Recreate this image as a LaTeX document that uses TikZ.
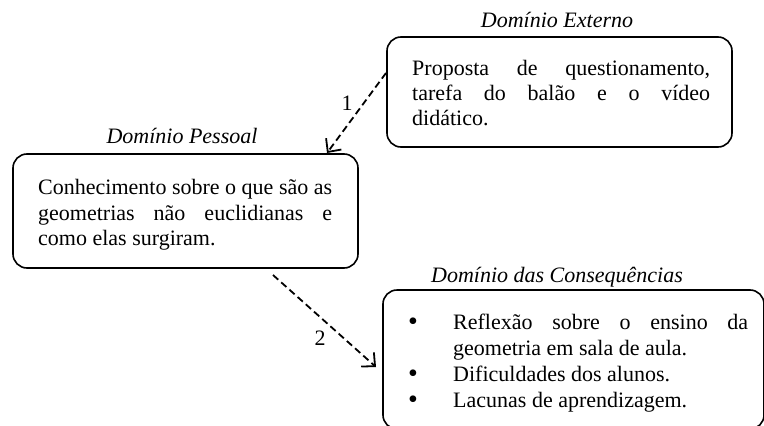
\documentclass[tikz,border=0pt]{standalone}
\usepackage{fontspec}
\setmainfont{Liberation Serif}
\usetikzlibrary{arrows.meta,calc}
\tikzset{
  box/.style={draw, line width=1.6pt, rounded corners=14pt, inner sep=0pt, outer sep=0pt},
  txt/.style={anchor=base west, inner sep=0pt, font=\fontsize{22}{25}\selectfont},
  ttl/.style={anchor=base, inner sep=0pt, font=\fontsize{22}{25}\selectfont\itshape},
  lbl/.style={inner sep=0pt, font=\fontsize{22}{25}\selectfont},
  bul/.style={anchor=base, inner sep=0pt, text height=12pt, text depth=0pt, font=\fontsize{28}{28}\selectfont},
  flow/.style={line width=1.8pt, dash pattern=on 7pt off 4pt, -{Straight Barb[length=10pt,width=19pt,line width=1.8pt]}}
}
\begin{document}
\begin{tikzpicture}[x=1pt,y=-1pt]
\clip (0,0) rectangle (764,426);
\fill[white] (0,0) rectangle (764,426);
% boxes
\node[box, minimum width=345pt, minimum height=110pt] (ext) at (559.5,92) {};
\node[box, minimum width=345pt, minimum height=114pt] (pes) at (185.5,211) {};
\node[box, minimum width=381pt, minimum height=139pt] (con) at (573.5,359.5) {};
% titles
\node[ttl] (text) at (557,27) {Domínio Externo};
\node[ttl] (tpes) at (182,143) {Domínio Pessoal};
\node[ttl] (tcon) at (557,282) {Domínio das Consequências};
% external box text
\node[txt] (e1) at (412,75) {\makebox[298pt][s]{Proposta de questionamento,}};
\node[txt] (e2) at (412,100) {\makebox[298pt][s]{tarefa do balão e o vídeo}};
\node[txt] (e3) at (412,125) {didático.};
% personal box text
\node[txt] (p1) at (38,194) {\makebox[294pt][s]{Conhecimento sobre o que são as}};
\node[txt] (p2) at (38,220) {\makebox[294pt][s]{geometrias não euclidianas e}};
\node[txt] (p3) at (38,245) {como elas surgiram.};
% consequences box text
\node[bul] (b1) at (413,330) {\textbullet};
\node[txt] (c1) at (453,329) {\makebox[295pt][s]{Reflexão sobre o ensino da}};
\node[txt] (c2) at (453,355) {geometria em sala de aula.};
\node[bul] (b2) at (413,382) {\textbullet};
\node[txt] (c3) at (453,381) {Dificuldades dos alunos.};
\node[bul] (b3) at (413,408) {\textbullet};
\node[txt] (c4) at (453,407) {Lacunas de aprendizagem.};
% connectors
\coordinate (a1s) at ($(ext.north west)+(-1,36)$);
\coordinate (a1e) at ($(pes.north east)+(-31,-1)$);
\coordinate (a2s) at ($(pes.south east)+(-85,7)$);
\coordinate (a2e) at ($(con.west)+(-7,7.5)$);
\draw[flow] (a1s) -- (a1e);
\draw[flow] (a2s) -- (a2e);
\node[lbl] (l1) at (347,103) {1};
\node[lbl] (l2) at (320,338) {2};
\end{tikzpicture}
\end{document}
